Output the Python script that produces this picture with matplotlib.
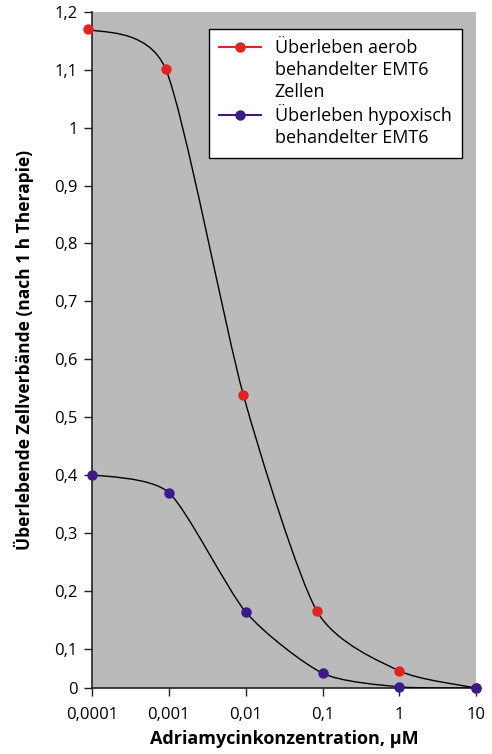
import numpy as np
import matplotlib
matplotlib.use("Agg")
import matplotlib.pyplot as plt
from matplotlib.path import Path
from matplotlib.patches import PathPatch
from matplotlib.lines import Line2D

plt.rcParams['font.family'] = ['Open Sans', 'DejaVu Sans']

# ---------- data ----------
conc_aerob = [0.000088, 0.00091, 0.0093, 0.084, 1.0, 10.0]
surv_aerob = [1.170, 1.101, 0.539, 0.166, 0.044, 0.0]
conc_hypox = [0.0001, 0.001, 0.01, 0.1, 1.0, 10.0]
surv_hypox = [0.401, 0.370, 0.164, 0.038, 0.003, 0.0]

xticks = [0.0001, 0.001, 0.01, 0.1, 1, 10]
xticklabels = ["0,0001", "0,001", "0,01", "0,1", "1", "10"]
yticks = [0, 0.1, 0.2, 0.3, 0.4, 0.5, 0.6, 0.7, 0.8, 0.9, 1.0, 1.1, 1.2]
yticklabels = ["0", "0,1", "0,2", "0,3", "0,4", "0,5", "0,6", "0,7", "0,8", "0,9", "1", "1,1", "1,2"]

RED = "#e2231f"
PURPLE = "#3d1a8c"
BG = "#bababa"

# the y axis in the original squeezes 0..0.1
SQ = 0.672
def fwd(y):
    y = np.asarray(y, dtype=float)
    return np.where(y < 0.1, y*SQ, y - 0.1 + 0.1*SQ)
def inv(v):
    v = np.asarray(v, dtype=float)
    return np.where(v < 0.1*SQ, v/SQ, v + 0.1 - 0.1*SQ)

def smooth_curve(ax, xs, ys, k=0.7):
    # Catmull-Rom style bezier in scaled space (like a smoothed Excel line)
    pts = np.column_stack([np.log10(xs), fwd(ys)])
    n = len(pts)
    verts = [pts[0]]; codes = [Path.MOVETO]
    for i in range(n-1):
        pm = pts[max(i-1, 0)]; p0 = pts[i]; p1 = pts[i+1]; p2 = pts[min(i+2, n-1)]
        c1 = p0 + (p1-pm)/6*k
        c2 = p1 - (p2-p0)/6*k
        verts += [c1, c2, p1]; codes += [Path.CURVE4]*3
    verts = np.array(verts)
    verts = np.column_stack([10**verts[:, 0], inv(verts[:, 1])])
    ax.add_patch(PathPatch(Path(verts, codes), fill=False, edgecolor="black", lw=1.0, zorder=3))

fig = plt.figure(figsize=(4.92, 7.54), dpi=100)
ax = fig.add_axes([0.187, 0.0875, 0.781, 0.897])
ax.set_xscale("log")
ax.set_yscale("function", functions=(fwd, inv))
ax.set_facecolor(BG)

smooth_curve(ax, conc_aerob, surv_aerob)
smooth_curve(ax, conc_hypox, surv_hypox)
ax.plot(conc_aerob, surv_aerob, "o", color=RED, ms=6.5, zorder=4, clip_on=False)
ax.plot(conc_hypox, surv_hypox, "o", color=PURPLE, ms=6.5, zorder=4, clip_on=False)

ax.set_xlim(1e-4, 10)
ax.set_ylim(0, 1.2)
ax.set_xticks(xticks)
ax.set_xticklabels(xticklabels)
ax.xaxis.set_minor_locator(matplotlib.ticker.NullLocator())
ax.set_yticks(yticks)
ax.set_yticklabels(yticklabels)
ax.yaxis.set_minor_locator(matplotlib.ticker.NullLocator())
ax.tick_params(direction="out", length=5.5, width=1, labelsize=12, color="#222222", pad=5)
ax.tick_params(axis="x", pad=8)
for s in ["top", "right"]:
    ax.spines[s].set_visible(False)
for s in ["left", "bottom"]:
    ax.spines[s].set_linewidth(1.2)
    ax.spines[s].set_color("#222222")

ax.set_xlabel("Adriamycinkonzentration, µM", fontsize=13, fontweight="bold", labelpad=5)
ax.set_ylabel("Überlebende Zellverbände (nach 1 h Therapie)", fontsize=12.5, fontweight="bold", labelpad=14)

blank = Line2D([], [], linestyle="none")
handles = [Line2D([], [], color=RED, marker="o", ms=6.5, lw=1.5), blank, blank,
           Line2D([], [], color=PURPLE, marker="o", ms=6.5, lw=1.5), blank]
labels = ["Überleben aerob", "behandelter EMT6", "Zellen", "Überleben hypoxisch", "behandelter EMT6"]
leg = ax.legend(handles, labels, loc="upper right", bbox_to_anchor=(0.9635, 0.975),
                borderaxespad=0, fontsize=13, fancybox=False, framealpha=1,
                edgecolor="black", handlelength=2.3, handletextpad=0.75,
                labelspacing=0.2, borderpad=0.6)
leg.get_frame().set_linewidth(1.0)

fig.savefig("out.png", dpi=100)
